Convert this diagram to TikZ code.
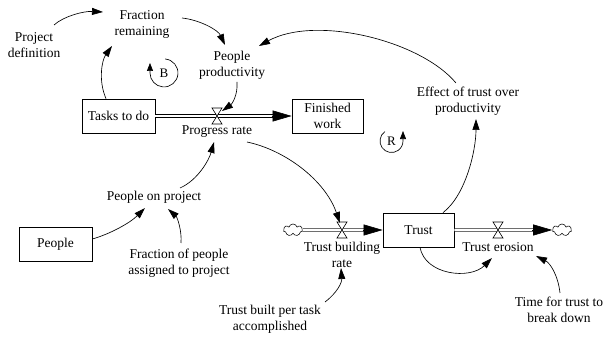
\documentclass[tikz,border=0pt]{standalone}
\usepackage{fontspec}
\setmainfont{Liberation Serif}
\usetikzlibrary{arrows.meta,calc,shapes.symbols}
\begin{document}
\begin{tikzpicture}[x=1pt,y=-1pt,
  font=\fontsize{13.5}{16}\selectfont,
  var/.style={align=center, inner sep=1pt},
  stock/.style={draw, line width=0.7pt, minimum width=71pt, minimum height=34pt, align=center, inner sep=1pt},
  link/.style={line width=0.65pt, -{Triangle[length=11pt,width=7pt]}},
  pipe/.style={double distance=2.2pt, line width=0.6pt, shorten >=12pt},
  pipehead/.style={line width=0.6pt, -{Triangle[length=19pt,width=11pt]}},
  sink/.style={cloud, cloud puffs=7, draw, line width=0.55pt, minimum width=19pt, minimum height=12pt, inner sep=0pt},
  loopmark/.style={font=\fontsize{13}{15}\selectfont, inner sep=0pt},
  looparc/.style={line width=0.65pt, -{Triangle[length=8pt,width=6pt]}},
  valve/.pic={\draw[fill=white, line width=0.6pt] (-5,-8) -- (5,-8) -- (-5,8) -- (5,8) -- cycle;}
]
\useasboundingbox (0,0) rectangle (603,344);

% stocks
\node[stock, minimum width=73pt] (tasks) at (118.5,116) {Tasks to do};
\node[stock] (finished) at (327.5,116) {Finished\\work};
\node[stock] (trust) at (418.5,230) {Trust};
\node[stock, minimum width=73pt] (people) at (55.5,244) {People};

% sources and sinks
\node[sink] (cloudL) at (293,230) {};
\node[sink] (cloudR) at (562,230) {};

% valves
\coordinate (v1) at (217,116);
\coordinate (v2) at (342,230);
\coordinate (v3) at (498,230);

% auxiliaries
\node[var] (projdef) at (34,45) {Project\\definition};
\node[var] (fracrem) at (142,24.5) {Fraction\\remaining};
\node[var] (prod) at (232,65.5) {People\\productivity};
\node[var] (progress) at (217,132) {Progress rate};
\node[var] (effect) at (468,101) {Effect of trust over\\productivity};
\node[var] (tbrate) at (342,255) {Trust building\\rate};
\node[var] (terosion) at (498,247) {Trust erosion};
\node[var] (ttime) at (559,310) {Time for trust to\\break down};
\node[var] (tbuilt) at (270,319.5) {Trust built per task\\accomplished};
\node[var] (pop) at (154,197) {People on project};
\node[var] (fracpeople) at (179,263) {Fraction of people\\assigned to project};

% flows
\draw[pipe] (tasks.east) -- (finished.west);
\draw[pipehead] ($(finished.west)+(-20,0)$) -- (finished.west);
\draw[pipe] (cloudL.east) -- (trust.west);
\draw[pipehead] ($(trust.west)+(-20,0)$) -- (trust.west);
\draw[pipe] (trust.east) -- (cloudR.west);
\draw[pipehead] ($(cloudR.west)+(-20,0)$) -- (cloudR.west);
\pic at (v1) {valve};
\pic at (v2) {valve};
\pic at (v3) {valve};

% causal links
\draw[link] ($(projdef)+(20,-20)$) .. controls (64,16) and (84,11) .. ($(fracrem)+(-39,-12.5)$);
\draw[link] ($(fracrem)+(40,-6.5)$) .. controls (200,20) and (218,30) .. ($(prod)+(-7,-20.5)$);
\draw[link] ($(tasks.north)+(-12.5,0)$) .. controls (98,80) and (102,60) .. ($(fracrem)+(-30,21.5)$);
\draw[link] ($(prod)+(5,16.5)$) .. controls (238,95) and (232,104) .. ($(v1)+(5,-5)$);
\draw[link] ($(effect)+(-12,-18)$) .. controls (420,40) and (315,15) .. ($(prod)+(27,-19.5)$);
\draw[link] ($(trust.north)+(24.5,0)$) .. controls (466,195) and (476,150) .. ($(effect)+(8,18)$);
\draw[link] ($(trust.south)+(1.5,0)$) .. controls (425,275) and (470,280) .. ($(terosion)+(-6,11)$);
\draw[link] ($(ttime)+(1,-17)$) .. controls (558,275) and (550,263) .. ($(terosion)+(38,9)$);
\draw[link] ($(tbuilt)+(55,-17.5)$) .. controls (338,292) and (342,282) .. ($(tbrate)+(-1,13)$);
\draw[link] ($(progress)+(30,10)$) .. controls (285,150) and (325,180) .. ($(v2)+(-2,-7)$);
\draw[link] ($(pop)+(26,-9)$) .. controls (198,180) and (209,160) .. ($(progress)+(-3,10)$);
\draw[link] ($(people.east)+(0,-5)$) .. controls (110,234) and (130,223) .. ($(pop)+(-9,11)$);
\draw[link] ($(fracpeople)+(2,-20)$) .. controls (182,230) and (177,217) .. ($(pop)+(14,12)$);

% loop markers
\node[loopmark] (loopB) at (164,73) {B};
\draw[looparc] ($(loopB)+(1.2,-14)$) arc[start angle=-85, end angle=180, radius=14] -- ++(0,-10);
\node[loopmark] (loopR) at (391.5,141) {R};
\draw[looparc] ($(loopR)+(-6.6,-9.4)$) arc[start angle=-125, end angle=-360, radius=11.5] -- ++(0,-10);
\end{tikzpicture}
\end{document}
